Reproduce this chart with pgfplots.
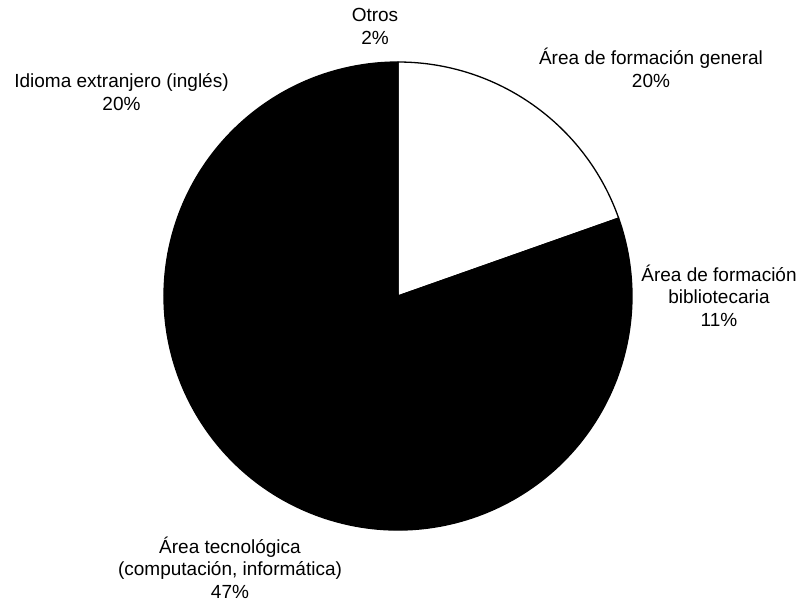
\documentclass[border=0pt]{standalone}
\usepackage{fontspec}
\setmainfont{Liberation Sans}
\usepackage{pgfplots}
\usepackage{pgfplotstable}
\pgfplotsset{compat=1.18}

% slice values (percent), clockwise from 12 o'clock
\pgfplotstableread[col sep=comma]{
value,fillcolor
19.6,white
11.2,black
47.1,black
20.1,black
2.0,black
}\piedata

\begin{document}
\begin{tikzpicture}
\begin{axis}[
  scale only axis,
  width=804bp, height=607bp,
  xmin=0, xmax=804, ymin=0, ymax=607,
  y dir=reverse,
  hide axis,
  clip=false,
]
\pgfmathsetmacro\cum{0}
\pgfplotsforeachungrouped \i in {0,...,4}{%
  \pgfplotstablegetelem{\i}{value}\of\piedata \let\v\pgfplotsretval
  \pgfplotstablegetelem{\i}{fillcolor}\of\piedata \let\c\pgfplotsretval
  \pgfmathsetmacro\a{90-3.6*\cum}%
  \pgfmathsetmacro\b{90-3.6*(\cum+\v)}%
  \edef\temp{\noexpand\filldraw[fill=\c, draw=black, line width=1.3bp, line join=round]
     (axis cs:398,296) -- ++(\a:234bp) arc[start angle=\a, end angle=\b, radius=234bp] -- cycle;}%
  \temp
  \pgfmathsetmacro\cum{\cum+\v}%
}
\tikzset{lbl/.style={anchor=base, inner sep=0pt, font=\fontsize{19bp}{22bp}\selectfont}}
\node[lbl] at (axis cs:375,22) {Otros};
\node[lbl] at (axis cs:375,44.5) {2\%};
\node[lbl] at (axis cs:651,65) {Área de formación general};
\node[lbl] at (axis cs:651,87.5) {20\%};
\node[lbl] at (axis cs:121.5,88) {Idioma extranjero (inglés)};
\node[lbl] at (axis cs:121.5,110.5) {20\%};
\node[lbl] at (axis cs:719,281) {Área de formación};
\node[lbl] at (axis cs:719,303.5) {bibliotecaria};
\node[lbl] at (axis cs:719,326) {11\%};
\node[lbl] at (axis cs:230,553) {Área tecnológica};
\node[lbl] at (axis cs:230,575.5) {(computación, informática)};
\node[lbl] at (axis cs:230,598) {47\%};
\end{axis}
\pgfresetboundingbox
\useasboundingbox (current axis.south west) rectangle (current axis.north east);
\end{tikzpicture}
\end{document}
